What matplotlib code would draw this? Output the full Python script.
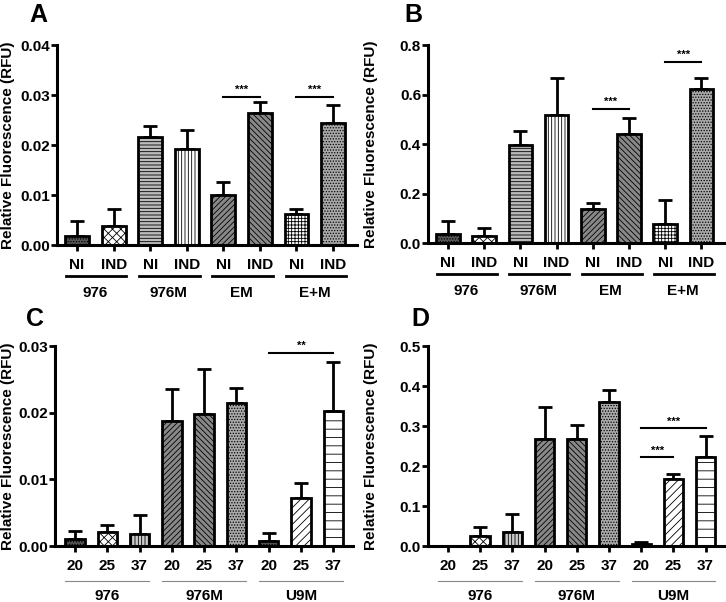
import matplotlib
matplotlib.use("Agg")
import matplotlib.pyplot as plt
import numpy as np

plt.rcParams['font.family'] = ['Liberation Sans', 'DejaVu Sans']
plt.rcParams['font.weight'] = 'bold'
plt.rcParams['hatch.linewidth'] = 0.6

# panel A / B : NI vs IND per strain
ab_ticks = ["NI", "IND"] * 4
ab_groups = ["976", "976M", "EM", "E+M"]
a_vals = [0.0018, 0.0039, 0.0217, 0.0193, 0.0101, 0.0265, 0.0062, 0.0245]
a_errs = [0.0031, 0.0034, 0.0021, 0.0038, 0.0026, 0.0022, 0.0010, 0.0035]
b_vals = [0.038, 0.030, 0.398, 0.517, 0.139, 0.443, 0.076, 0.621]
b_errs = [0.051, 0.032, 0.055, 0.151, 0.023, 0.064, 0.097, 0.047]

# panel C / D : temperatures per strain
cd_ticks = ["20", "25", "37"] * 3
cd_groups = ["976", "976M", "U9M"]
c_vals = [0.0011, 0.0021, 0.0018, 0.0187, 0.0198, 0.0215, 0.0008, 0.0072, 0.0203]
c_errs = [0.0011, 0.0010, 0.0028, 0.0049, 0.0068, 0.0022, 0.0011, 0.0023, 0.0073]
d_vals = [0.0, 0.026, 0.034, 0.268, 0.268, 0.361, 0.005, 0.167, 0.222]
d_errs = [0.0, 0.021, 0.047, 0.079, 0.034, 0.029, 0.006, 0.014, 0.052]

ab_styles = [('#555555', '......'), ('white', 'xxxx'), ('#bbbbbb', '-----'),
             ('white', '|||||'), ('#888888', '//////'), ('#888888', '\\\\\\\\\\\\'),
             ('white', '+++++'), ('#aaaaaa', '......')]
cd_styles = [('#555555', '......'), ('white', 'xxxx'), ('#cccccc', '|||||'),
             ('#888888', '//////'), ('#888888', '\\\\\\\\\\\\'), ('#aaaaaa', '......'),
             ('#555555', '......'), ('white', '////'), ('white', '--')]


def draw_panel(ax, vals, errs, ticks, groups, gsize, styles, ymax, yticks, fmt,
               letter, sigs, thin_lines, width, xlim, label_x, letter_pos):
    x = np.arange(len(vals))
    for i in range(len(vals)):
        fc, h = styles[i]
        ax.bar(x[i], vals[i], width=width, facecolor=fc, edgecolor='black',
               hatch=h, linewidth=2, zorder=2)
    ax.errorbar(x, vals, yerr=[np.zeros(len(errs)), errs], fmt='none',
                ecolor='black', elinewidth=2, capsize=5, capthick=2, zorder=1)
    ax.set_xlim(*xlim)
    ax.set_ylim(0, ymax)
    ax.set_yticks(yticks)
    ax.set_yticklabels([fmt.format(v) for v in yticks], fontsize=11, fontweight='bold')
    ax.set_xticks(x)
    ax.set_xticklabels([])
    ax.tick_params(axis='both', width=2, length=4, direction='out')
    ax.tick_params(axis='y', pad=1)
    for s in ['top', 'right']:
        ax.spines[s].set_visible(False)
    for s in ['left', 'bottom']:
        ax.spines[s].set_linewidth(2.2)
    ax.set_ylabel("Relative Fluorescence (RFU)", fontsize=11, fontweight='bold')
    ax.yaxis.set_label_coords(label_x, 0.5)
    trans = ax.get_xaxis_transform()
    for i, t in enumerate(ticks):
        ax.text(x[i], -0.1, t, transform=trans, ha='center', va='center',
                fontsize=11, fontweight='bold')
    for g, name in enumerate(groups):
        i0 = g * gsize
        i1 = i0 + gsize - 1
        if thin_lines:
            ax.plot([i0 - 0.3, i1 + 0.3], [-0.175, -0.175], transform=trans,
                    color='#888888', lw=0.8, clip_on=False)
            yl = -0.25
        else:
            ax.plot([i0 - 0.3, i1 + 0.35], [-0.155, -0.155], transform=trans,
                    color='black', lw=2, clip_on=False)
            yl = -0.24
        ax.text((i0 + i1) / 2, yl, name, transform=trans, ha='center', va='center',
                fontsize=11, fontweight='bold')
    for i0, i1, y, label in sigs:
        ax.plot([i0, i1], [y, y], color='black', lw=1.5, zorder=3)
        ax.text((i0 + i1) / 2, y + ymax * 0.008, label, ha='center', va='bottom',
                fontsize=8, fontweight='bold')
    ax.text(letter_pos[0], letter_pos[1], letter, transform=ax.transAxes, fontsize=18,
            fontweight='bold', ha='center', va='center')


fig = plt.figure(figsize=(7.26, 6.02), dpi=100)
axA = fig.add_axes([0.0785, 0.593, 0.413, 0.332])
axB = fig.add_axes([0.5895, 0.596, 0.409, 0.329])
axC = fig.add_axes([0.0758, 0.093, 0.410, 0.332])
axD = fig.add_axes([0.5895, 0.093, 0.409, 0.332])

draw_panel(axA, a_vals, a_errs, ab_ticks, ab_groups, 2, ab_styles, 0.04,
           [0, 0.01, 0.02, 0.03, 0.04], "{:.2f}", "A",
           [(4, 5, 0.0297, "***"), (6, 7, 0.0297, "***")], False, 0.65, (-0.55, 7.65),
           -0.14, (-0.063, 1.15))
draw_panel(axB, b_vals, b_errs, ab_ticks, ab_groups, 2, ab_styles, 0.8,
           [0, 0.2, 0.4, 0.6, 0.8], "{:.1f}", "B",
           [(4, 5, 0.544, "***"), (6, 7, 0.733, "***")], False, 0.65, (-0.55, 7.65),
           -0.168, (-0.05, 1.15))
draw_panel(axC, c_vals, c_errs, cd_ticks, cd_groups, 3, cd_styles, 0.03,
           [0, 0.01, 0.02, 0.03], "{:.2f}", "C",
           [(6, 8, 0.029, "**")], True, 0.6, (-0.62, 8.6),
           -0.134, (-0.067, 1.135))
draw_panel(axD, d_vals, d_errs, cd_ticks, cd_groups, 3, cd_styles, 0.5,
           [0, 0.1, 0.2, 0.3, 0.4, 0.5], "{:.1f}", "D",
           [(6, 7, 0.222, "***"), (6, 8, 0.295, "***")], True, 0.6, (-0.62, 8.6),
           -0.168, (-0.024, 1.135))

fig.savefig("out.png", dpi=100)
